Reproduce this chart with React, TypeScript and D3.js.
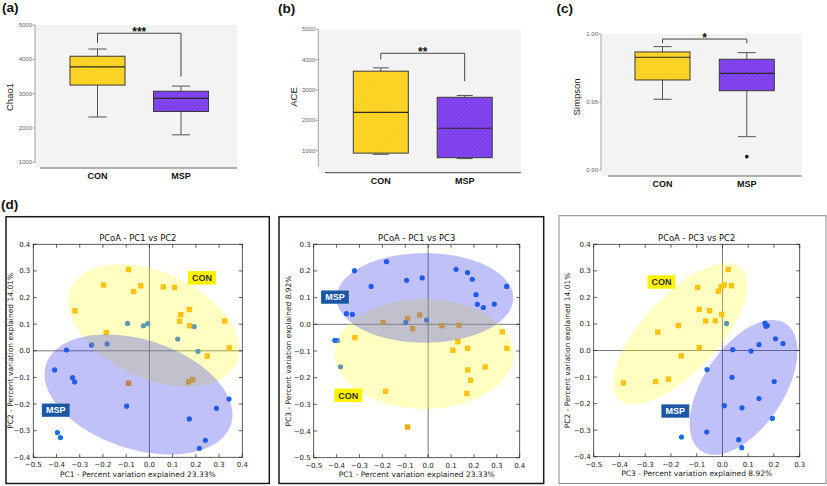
import React from "react";
import * as d3 from "d3";

const ARIAL = "Arial, 'Liberation Sans', Helvetica, sans-serif";
const DEJAVU = "'DejaVu Sans', Verdana, sans-serif";

// ---------- alpha diversity (box plots) ----------
const groups = ["CON", "MSP"];

const chao1Stats = [
  { lo: 2320, q1: 3250, med: 3780, q3: 4090, hi: 4300 },
  { lo: 1800, q1: 2480, med: 2860, q3: 3070, hi: 3220 },
];
const aceStats = [
  { lo: 880, q1: 920, med: 2260, q3: 3620, hi: 3730 },
  { lo: 740, q1: 770, med: 1740, q3: 2760, hi: 2820 },
];
const simpsonStats = [
  { lo: 0.952, q1: 0.9662, med: 0.9829, q3: 0.9868, hi: 0.9907 },
  { lo: 0.9245, q1: 0.9583, med: 0.9711, q3: 0.9814, hi: 0.9863 },
];
const noOutliers: number[][] = [[], []];
const simpsonOutliers: number[][] = [[], [0.9098]];

const countTicks = [1000, 2000, 3000, 4000, 5000];
const simpsonTicks = [0.9, 0.95, 1.0];

const chao1Sig = { stars: "***", bar: 4760, leftEnd: 4480, rightEnd: 3500 };
const aceSig = { stars: "**", bar: 4210, leftEnd: 4010, rightEnd: 3290 };
const simpsonSig = { stars: "*", bar: 0.9963, leftEnd: 0.9932, rightEnd: 0.9932 };

// ---------- PCoA coordinates ----------
const conPC1 = [-0.090, -0.197, -0.037, -0.068, 0.060, 0.108, -0.320, 0.172, 0.135, 0.130, 0.173, 0.324, -0.186, 0.344, 0.249, -0.090, 0.169, 0.186];
const conPC2 = [0.305, 0.247, 0.244, 0.223, 0.240, 0.238, 0.150, 0.155, 0.136, 0.111, 0.094, 0.112, 0.069, 0.011, -0.020, -0.122, -0.117, -0.108];
const conPC3 = [0.022, 0.007, 0.035, -0.016, -0.005, -0.097, -0.050, -0.090, -0.003, -0.065, -0.171, -0.028, -0.251, -0.090, -0.160, -0.385, -0.259, -0.210];

const mspPC1 = [-0.094, -0.026, -0.007, 0.193, 0.122, 0.209, -0.249, -0.182, -0.357, -0.408, -0.331, -0.322, -0.098, 0.172, 0.289, 0.343, 0.241, 0.215, -0.396, -0.383];
const mspPC2 = [0.103, 0.094, 0.102, 0.091, 0.044, -0.002, 0.022, 0.026, 0.003, -0.072, -0.101, -0.117, -0.208, -0.256, -0.216, -0.181, -0.336, -0.366, -0.307, -0.326];
const mspPC3 = [0.165, 0.174, 0.016, 0.169, 0.206, 0.111, 0.142, 0.235, 0.040, -0.060, 0.037, 0.201, 0.007, 0.194, 0.076, 0.142, 0.063, 0.075, -0.061, -0.159];

const ticksPC1 = [-0.5, -0.4, -0.3, -0.2, -0.1, 0.0, 0.1, 0.2, 0.3, 0.4];
const ticksPC2 = [-0.4, -0.3, -0.2, -0.1, 0.0, 0.1, 0.2, 0.3, 0.4];
const ticksPC3v = [-0.5, -0.4, -0.3, -0.2, -0.1, 0.0, 0.1, 0.2, 0.3];

// ellipses: centre + two conjugate semi-axis vectors, data units
const ell12Con = { cx: 0.019, cy: 0.095, ux: 0.355, uy: -0.142, vx: -0.095, vy: -0.181 };
const ell12Msp = { cx: -0.047, cy: -0.164, ux: 0.398, uy: -0.113, vx: -0.073, vy: -0.195 };
const ell13Con = { cx: -0.018, cy: -0.111, ux: 0.39, uy: 0, vx: 0, vy: 0.206 };
const ell13Msp = { cx: -0.014, cy: 0.099, ux: 0.386, uy: 0, vx: 0, vy: 0.168 };
const ell32Con = { cx: -0.164, cy: 0.063, ux: 0.237, uy: 0.247, vx: 0.1075, vy: -0.097 };
const ell32Msp = { cx: 0.082, cy: -0.139, ux: 0.164, uy: 0.24, vx: 0.13, vy: -0.083 };

// group label positions (data units)
const lab12 = { con: [0.226, 0.274], msp: [-0.403, -0.223] };
const lab13 = { con: [-0.349, -0.266], msp: [-0.407, 0.102] };
const lab32 = { con: [-0.237, 0.258], msp: [-0.183, -0.228] };

const fmtCount = d3.format("d");
const fmtSimpson = d3.format(".2f");
const fmtPC = d3.format(".1f");

type Stat = { lo: number; q1: number; med: number; q3: number; hi: number };

function BoxPanel(props: any) {
  const { cfg, stats, ticks, outliers, sig, fmt } = props;
  const y = d3.scaleLinear().domain(cfg.domain).range(cfg.yRange);
  const x = d3.scalePoint<string>().domain(groups).range(cfg.xRange);
  const bw = cfg.boxW;
  const cw = cfg.capW;
  const fills = ["url(#conFill)", "url(#mspFill)"];
  const xl = x("CON")!;
  const xr = x("MSP")!;
  return (
    <g>
      <text x={cfg.letterX} y={cfg.letterY} fontSize={13.5} fontWeight="bold" fontFamily={ARIAL} fill="#111">{cfg.letter}</text>
      <rect x={cfg.bgX0} y={cfg.bgY0} width={cfg.bgX1 - cfg.bgX0} height={cfg.axisY - cfg.bgY0} fill="#f3f3f3" />
      <line x1={cfg.bgX0} x2={cfg.bgX0} y1={cfg.bgY0} y2={cfg.yAxisEnd} stroke="#8a8a8a" strokeWidth={0.8} />
      {ticks.map((t: number) => (
        <g key={t}>
          <line x1={cfg.bgX0 - 2.5} x2={cfg.bgX0} y1={y(t)} y2={y(t)} stroke="#8a8a8a" strokeWidth={0.8} />
          <text x={cfg.bgX0 - 3} y={y(t) + 2} fontSize={6} textAnchor="end" fill="#666" fontFamily={ARIAL}>{fmt(t)}</text>
        </g>
      ))}
      <line x1={cfg.axisX0} x2={cfg.bgX1} y1={cfg.axisY} y2={cfg.axisY} stroke="#666" strokeWidth={1.2} />
      <text transform={`translate(${cfg.titleX},${cfg.titleY}) rotate(-90)`} textAnchor="middle" fontSize={9.5} fontFamily={ARIAL} fill="#222">{cfg.yTitle}</text>
      {groups.map((g, i) => {
        const s: Stat = stats[i];
        const cx = x(g)!;
        return (
          <g key={g}>
            <line x1={cx} x2={cx} y1={y(s.hi)} y2={y(s.q3)} stroke="#555" strokeWidth={1} />
            <line x1={cx} x2={cx} y1={y(s.q1)} y2={y(s.lo)} stroke="#555" strokeWidth={1} />
            <line x1={cx - cw / 2} x2={cx + cw / 2} y1={y(s.hi)} y2={y(s.hi)} stroke="#555" strokeWidth={1} />
            <line x1={cx - cw / 2} x2={cx + cw / 2} y1={y(s.lo)} y2={y(s.lo)} stroke="#555" strokeWidth={1} />
            <rect x={cx - bw / 2} y={y(s.q3)} width={bw} height={y(s.q1) - y(s.q3)} fill={fills[i]} stroke="#3a3a3a" strokeWidth={1} />
            <line x1={cx - bw / 2} x2={cx + bw / 2} y1={y(s.med)} y2={y(s.med)} stroke="#2a2a2a" strokeWidth={1.2} />
            {outliers[i].map((o: number, k: number) => (
              <circle key={k} cx={cx} cy={y(o)} r={1.8} fill="#111" />
            ))}
            <text x={cx} y={cfg.labelY} textAnchor="middle" fontSize={9} fontWeight="bold" fontFamily={ARIAL} fill="#111">{g}</text>
          </g>
        );
      })}
      <path d={`M${xl},${y(sig.leftEnd)}V${y(sig.bar)}H${xr}V${y(sig.rightEnd)}`} fill="none" stroke="#444" strokeWidth={1} />
      <text x={(xl + xr) / 2} y={y(sig.bar) + 2.5} textAnchor="middle" fontSize={12} fontWeight="bold" fontFamily={ARIAL} fill="#111">{sig.stars}</text>
    </g>
  );
}

function ellipsePath(e: any, x: any, y: any) {
  const pts: [number, number][] = d3.range(0, 145).map((i) => {
    const t = (i / 144) * 2 * Math.PI;
    return [x(e.cx + e.ux * Math.cos(t) + e.vx * Math.sin(t)), y(e.cy + e.uy * Math.cos(t) + e.vy * Math.sin(t))];
  });
  return (d3.line()(pts) || "") + "Z";
}

function Badge({ px, py, text, kind }: any) {
  const w = 28, h = 13.5;
  const isCon = kind === "con";
  return (
    <g>
      <rect x={px - w / 2} y={py - h / 2} width={w} height={h} fill={isCon ? "#fff200" : "#1b56a6"} stroke={isCon ? "none" : "#cfd8ea"} strokeWidth={0.6} strokeDasharray="1 1" />
      <text x={px} y={py + 3.3} textAnchor="middle" fontSize={9} fontWeight="bold" fontFamily={ARIAL} fill={isCon ? "#333" : "#fff"}>{text}</text>
    </g>
  );
}

function PcoaPanel({ cfg }: any) {
  const x = d3.scaleLinear().domain(cfg.xDomain).range([cfg.left, cfg.right]);
  const y = d3.scaleLinear().domain(cfg.yDomain).range([cfg.bottom, cfg.top]);
  const tl = 3.5;
  const clipId = `clip-${cfg.id}`;
  return (
    <g>
      <rect x={cfg.frame[0]} y={cfg.frame[1]} width={cfg.frame[2] - cfg.frame[0]} height={cfg.frame[3] - cfg.frame[1]} fill="none" stroke={cfg.frameColor} strokeWidth={cfg.frameWidth} />
      <defs>
        <clipPath id={clipId}>
          <rect x={cfg.left} y={cfg.top} width={cfg.right - cfg.left} height={cfg.bottom - cfg.top} />
        </clipPath>
      </defs>
      <text x={(cfg.left + cfg.right) / 2} y={cfg.top - 3} textAnchor="middle" fontSize={8.4} fontFamily={DEJAVU} fill="#111">{cfg.title}</text>
      <g clipPath={`url(#${clipId})`}>
        <line x1={x(0)} x2={x(0)} y1={cfg.top} y2={cfg.bottom} stroke="#666" strokeWidth={0.9} />
        <line x1={cfg.left} x2={cfg.right} y1={y(0)} y2={y(0)} stroke="#666" strokeWidth={0.9} />
        {cfg.conX.map((v: number, i: number) => (
          <rect key={`c${i}`} x={x(v) - 2.7} y={y(cfg.conY[i]) - 2.7} width={5.4} height={5.4} fill="#fcaa00" />
        ))}
        {cfg.mspX.map((v: number, i: number) => (
          <circle key={`m${i}`} cx={x(v)} cy={y(cfg.mspY[i])} r={2.6} fill="#1a6ee8" />
        ))}
        <path d={ellipsePath(cfg.ellCon, x, y)} fill="#ffff33" fillOpacity={0.3} />
        <path d={ellipsePath(cfg.ellMsp, x, y)} fill="#3333ee" fillOpacity={0.3} />
      </g>
      <Badge px={x(cfg.lab.con[0])} py={y(cfg.lab.con[1])} text="CON" kind="con" />
      <Badge px={x(cfg.lab.msp[0])} py={y(cfg.lab.msp[1])} text="MSP" kind="msp" />
      <rect x={cfg.left} y={cfg.top} width={cfg.right - cfg.left} height={cfg.bottom - cfg.top} fill="none" stroke="#333" strokeWidth={0.8} />
      {cfg.xTicks.map((t: number) => (
        <g key={`xt${t}`}>
          <line x1={x(t)} x2={x(t)} y1={cfg.bottom} y2={cfg.bottom - tl} stroke="#222" strokeWidth={0.7} />
          <line x1={x(t)} x2={x(t)} y1={cfg.top} y2={cfg.top + tl} stroke="#222" strokeWidth={0.7} />
          <text x={x(t)} y={cfg.bottom + 9.8} textAnchor="middle" fontSize={7} fontFamily={DEJAVU} fill="#222">{fmtPC(t)}</text>
        </g>
      ))}
      {cfg.yTicks.map((t: number) => (
        <g key={`yt${t}`}>
          <line x1={cfg.left} x2={cfg.left + tl} y1={y(t)} y2={y(t)} stroke="#222" strokeWidth={0.7} />
          <line x1={cfg.right} x2={cfg.right - tl} y1={y(t)} y2={y(t)} stroke="#222" strokeWidth={0.7} />
          <text x={cfg.left - 3} y={y(t) + 2.5} textAnchor="end" fontSize={7} fontFamily={DEJAVU} fill="#222">{fmtPC(t)}</text>
        </g>
      ))}
      <text x={(cfg.left + cfg.right) / 2} y={cfg.bottom + 19.7} textAnchor="middle" fontSize={7.5} fontFamily={DEJAVU} fill="#222">{cfg.xLabel}</text>
      <text transform={`translate(${cfg.yLabelX},${(cfg.top + cfg.bottom) / 2}) rotate(-90)`} textAnchor="middle" fontSize={7.5} fontFamily={DEJAVU} fill="#222">{cfg.yLabel}</text>
    </g>
  );
}

const boxA = { letter: "(a)", letterX: 2, letterY: 11.5, domain: [1000, 5000], yRange: [162.3, 25], xRange: [97.5, 181], bgX0: 35, bgX1: 237, bgY0: 25, axisY: 168, axisX0: 40, yAxisEnd: 163, boxW: 55, capW: 18, labelY: 179, titleX: 13, titleY: 97, yTitle: "Chao1" };
const boxB = { letter: "(b)", letterX: 278, letterY: 12.5, domain: [1000, 5000], yRange: [150.7, 29.3], xRange: [380.8, 464.7], bgX0: 318.3, bgX1: 520.7, bgY0: 29.3, axisY: 172.7, axisX0: 325, yAxisEnd: 166.7, boxW: 55, capW: 16, labelY: 184, titleX: 296.5, titleY: 97, yTitle: "ACE" };
const boxC = { letter: "(c)", letterX: 556.5, letterY: 12.5, domain: [0.9, 1.0], yRange: [170, 34], xRange: [662.5, 746.8], bgX0: 601, bgX1: 801.7, bgY0: 34, axisY: 176, axisX0: 608, yAxisEnd: 170, boxW: 55, capW: 18, labelY: 187.3, titleX: 580.2, titleY: 97, yTitle: "Simpson" };

const pc12 = {
  id: "p12", frame: [6, 216.7, 269.3, 483.5], frameColor: "#1a1a1a", frameWidth: 1.5,
  left: 33.3, right: 242.3, top: 244.3, bottom: 457.3, xDomain: [-0.5, 0.4], yDomain: [-0.4, 0.4],
  xTicks: ticksPC1, yTicks: ticksPC2, conX: conPC1, conY: conPC2, mspX: mspPC1, mspY: mspPC2,
  ellCon: ell12Con, ellMsp: ell12Msp, lab: lab12, yLabelX: 12.8,
  title: "PCoA - PC1 vs PC2", xLabel: "PC1 - Percent variation explained 23.33%", yLabel: "PC2 - Percent variation explained 14.01%",
};
const pc13 = {
  id: "p13", frame: [279, 216.7, 543.7, 483.5], frameColor: "#1a1a1a", frameWidth: 1.5,
  left: 313.7, right: 519.7, top: 244.3, bottom: 457.7, xDomain: [-0.5, 0.4], yDomain: [-0.5, 0.3],
  xTicks: ticksPC1, yTicks: ticksPC3v, conX: conPC1, conY: conPC3, mspX: mspPC1, mspY: mspPC3,
  ellCon: ell13Con, ellMsp: ell13Msp, lab: lab13, yLabelX: 291,
  title: "PCoA - PC1 vs PC3", xLabel: "PC1 - Percent variation explained 23.33%", yLabel: "PC3 - Percent variation explained 8.92%",
};
const pc32 = {
  id: "p32", frame: [559, 215.7, 826, 483.5], frameColor: "#8a8a8a", frameWidth: 1,
  left: 593.7, right: 799.7, top: 244.3, bottom: 456.7, xDomain: [-0.5, 0.3], yDomain: [-0.4, 0.4],
  xTicks: ticksPC3v, yTicks: ticksPC2, conX: conPC3, conY: conPC2, mspX: mspPC3, mspY: mspPC2,
  ellCon: ell32Con, ellMsp: ell32Msp, lab: lab32, yLabelX: 570,
  title: "PCoA - PC3 vs PC2", xLabel: "PC3 - Percent variation explained 8.92%", yLabel: "PC2 - Percent variation explained 14.01%",
};

export default function App() {
  return (
    <svg width={827} height={486} viewBox="0 0 827 486" style={{ position: "absolute", left: 0, top: 0, background: "#fff" }}>
      <defs>
        <pattern id="conFill" width={3} height={3} patternUnits="userSpaceOnUse" patternTransform="rotate(45)">
          <rect width={3} height={3} fill="#ffd52c" />
          <line x1={0} y1={0} x2={0} y2={3} stroke="#f6c400" strokeWidth={0.8} />
        </pattern>
        <pattern id="mspFill" width={3} height={3} patternUnits="userSpaceOnUse" patternTransform="rotate(45)">
          <rect width={3} height={3} fill="#8c44f2" />
          <line x1={0} y1={0} x2={0} y2={3} stroke="#5340dc" strokeWidth={1.3} />
        </pattern>
      </defs>
      <rect width={827} height={486} fill="#fff" />
      <BoxPanel cfg={boxA} stats={chao1Stats} ticks={countTicks} outliers={noOutliers} sig={chao1Sig} fmt={fmtCount} />
      <BoxPanel cfg={boxB} stats={aceStats} ticks={countTicks} outliers={noOutliers} sig={aceSig} fmt={fmtCount} />
      <BoxPanel cfg={boxC} stats={simpsonStats} ticks={simpsonTicks} outliers={simpsonOutliers} sig={simpsonSig} fmt={fmtSimpson} />
      <text x={1} y={208.5} fontSize={13.5} fontWeight="bold" fontFamily={ARIAL} fill="#111">(d)</text>
      <PcoaPanel cfg={pc12} />
      <PcoaPanel cfg={pc13} />
      <PcoaPanel cfg={pc32} />
    </svg>
  );
}
